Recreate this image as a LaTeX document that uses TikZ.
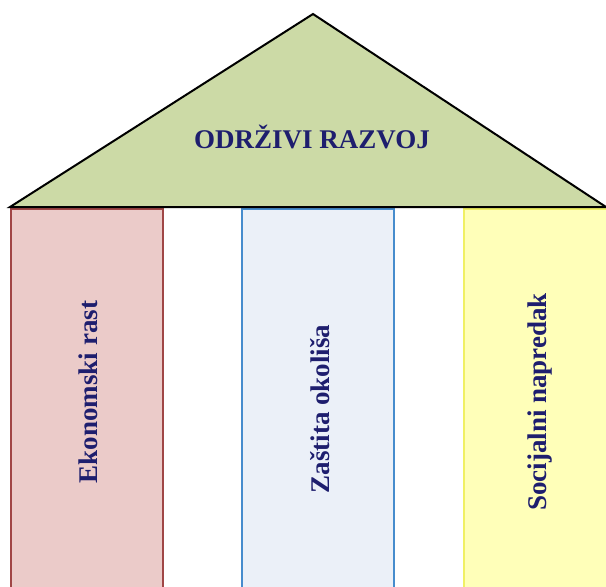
\documentclass[tikz,border=0pt]{standalone}
\usepackage{fontspec}
\setmainfont{Liberation Serif}
\usepackage{xcolor}
\usetikzlibrary{positioning}
\definecolor{roofgreen}{RGB}{204,218,166}
\definecolor{pinkfill}{RGB}{235,203,201}
\definecolor{pinkline}{RGB}{160,70,70}
\definecolor{bluefill}{RGB}{235,240,248}
\definecolor{blueline}{RGB}{70,140,205}
\definecolor{yellowfill}{RGB}{255,255,185}
\definecolor{yellowline}{RGB}{240,240,100}
\definecolor{navytext}{RGB}{30,30,110}

\begin{document}
\begin{tikzpicture}[x=1pt, y=-1pt, font=\bfseries\fontsize{27}{32}\selectfont]
    \useasboundingbox (0,0) rectangle (606,587);
    \clip (0,0) rectangle (606,587);

    % columns
    \node (eko) [rectangle, draw=pinkline, fill=pinkfill, line width=1.8pt, minimum width=152pt, minimum height=420pt, anchor=north west] at (10,208) {};
    \node (oko) [rectangle, draw=blueline, fill=bluefill, line width=1.8pt, minimum width=152pt, minimum height=420pt, anchor=north west] at (241,208) {};
    \node (soc) [rectangle, draw=yellowline, fill=yellowfill, line width=1.8pt, minimum width=170pt, minimum height=420pt, anchor=north west] at (463,208) {};

    \node (ekotxt) [rotate=90, text=navytext] at (88,392) {Ekonomski rast};
    \node (okotxt) [rotate=90, text=navytext] at (320,409) {Zaštita okoliša};
    \node (soctxt) [rotate=90, text=navytext] at (540,402) {Socijalni napredak};

    % roof
    \draw [fill=roofgreen, line width=2pt] (10,207) -- (313,14) -- (606,207) -- cycle;
    \node (roof) [text=navytext] at (312,137) {ODRŽIVI RAZVOJ};
\end{tikzpicture}
\end{document}
